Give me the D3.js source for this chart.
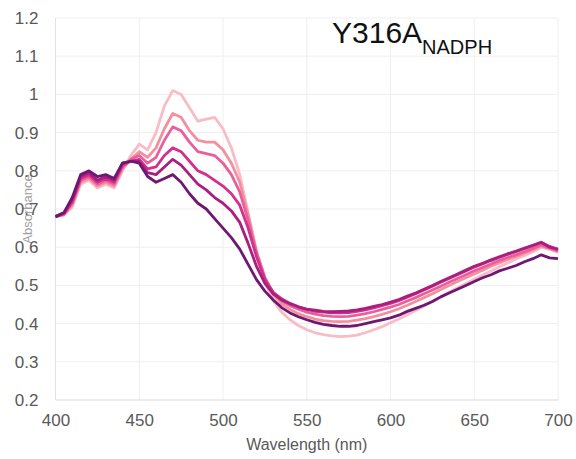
<!DOCTYPE html>
<html>
<head>
<meta charset="utf-8">
<script src="https://cdn.jsdelivr.net/npm/d3@7"></script>
<style>
  body { margin: 0; background: #fff; }
  svg { display: block; font-family: "Liberation Sans", Arial, sans-serif; }
</style>
</head>
<body>
<svg id="chart" width="576" height="459"></svg>
<script>
// wavelengths, 5 nm steps
const wavelengths = d3.range(400, 701, 5);

const xTicks = [400, 450, 500, 550, 600, 650, 700];
const yTicks = [0.2, 0.3, 0.4, 0.5, 0.6, 0.7, 0.8, 0.9, 1.0, 1.1, 1.2];
const yTickLabels = ["0.2", "0.3", "0.4", "0.5", "0.6", "0.7", "0.8", "0.9", "1", "1.1", "1.2"];

// absorbance traces, lightest (first) to darkest (last)
const trace1 = [0.680,0.684,0.705,0.765,0.775,0.755,0.765,0.755,0.800,0.840,0.870,0.855,0.900,0.970,1.010,1.000,0.965,0.930,0.935,0.940,0.910,0.860,0.790,0.690,0.585,0.510,0.460,0.430,0.410,0.395,0.384,0.376,0.371,0.368,0.366,0.367,0.370,0.376,0.384,0.392,0.402,0.412,0.423,0.434,0.446,0.458,0.470,0.482,0.494,0.505,0.516,0.527,0.538,0.549,0.559,0.569,0.578,0.588,0.600,0.594,0.587];
const trace2 = [0.680,0.685,0.710,0.770,0.780,0.760,0.770,0.760,0.805,0.830,0.850,0.835,0.860,0.910,0.950,0.940,0.905,0.880,0.875,0.875,0.855,0.820,0.770,0.685,0.590,0.520,0.475,0.452,0.437,0.426,0.418,0.412,0.408,0.406,0.405,0.406,0.409,0.413,0.418,0.424,0.431,0.439,0.448,0.458,0.468,0.478,0.489,0.500,0.510,0.520,0.530,0.540,0.550,0.559,0.568,0.576,0.584,0.593,0.603,0.596,0.588];
const trace3 = [0.680,0.686,0.715,0.775,0.785,0.765,0.775,0.765,0.810,0.830,0.840,0.820,0.835,0.880,0.915,0.905,0.875,0.850,0.845,0.840,0.820,0.790,0.745,0.670,0.585,0.520,0.480,0.460,0.447,0.438,0.430,0.425,0.421,0.419,0.418,0.419,0.422,0.426,0.431,0.437,0.443,0.450,0.459,0.468,0.478,0.488,0.498,0.508,0.518,0.528,0.538,0.547,0.556,0.565,0.573,0.580,0.588,0.597,0.606,0.598,0.590];
const trace4 = [0.680,0.688,0.720,0.780,0.790,0.770,0.780,0.770,0.815,0.825,0.830,0.805,0.810,0.840,0.860,0.850,0.825,0.800,0.790,0.775,0.760,0.740,0.710,0.650,0.575,0.515,0.482,0.465,0.453,0.444,0.437,0.432,0.430,0.428,0.428,0.429,0.432,0.436,0.441,0.447,0.453,0.460,0.469,0.478,0.488,0.498,0.508,0.518,0.528,0.538,0.548,0.556,0.565,0.573,0.581,0.588,0.596,0.604,0.612,0.602,0.594];
const trace5 = [0.680,0.690,0.725,0.785,0.795,0.775,0.785,0.775,0.820,0.825,0.825,0.795,0.790,0.810,0.830,0.815,0.790,0.765,0.750,0.730,0.715,0.695,0.665,0.610,0.550,0.505,0.478,0.462,0.452,0.444,0.438,0.435,0.432,0.431,0.432,0.433,0.436,0.440,0.445,0.450,0.456,0.463,0.472,0.480,0.490,0.500,0.510,0.520,0.530,0.540,0.550,0.558,0.567,0.575,0.583,0.590,0.598,0.605,0.613,0.600,0.595];
const trace6 = [0.680,0.690,0.730,0.790,0.800,0.785,0.790,0.780,0.820,0.825,0.820,0.785,0.770,0.780,0.790,0.770,0.740,0.715,0.700,0.675,0.650,0.625,0.595,0.555,0.515,0.485,0.462,0.442,0.428,0.418,0.410,0.403,0.398,0.395,0.393,0.393,0.395,0.400,0.405,0.410,0.415,0.422,0.432,0.440,0.448,0.458,0.470,0.480,0.490,0.500,0.510,0.520,0.528,0.538,0.545,0.552,0.562,0.570,0.580,0.572,0.570];

const traces = [trace1, trace2, trace3, trace4, trace5, trace6];
const colors = ["#f9bcc6", "#f3909f", "#ea5f9a", "#d2308a", "#a81f80", "#6e1872"];

let svg = d3.select("#chart");

let x = d3.scaleLinear().domain([400, 700]).range([55.5, 558]);
let y = d3.scaleLinear().domain([0.2, 1.2]).range([400, 18]);

// gridlines
svg.append("g")
    .selectAll("line.h")
    .data(yTicks.slice(1))
    .enter()
    .append("line")
    .attr("x1", x(400)).attr("x2", x(700))
    .attr("y1", d => y(d)).attr("y2", d => y(d))
    .attr("stroke", "#efefef")
    .attr("stroke-width", 1);

svg.append("g")
    .selectAll("line.v")
    .data(xTicks.slice(1))
    .enter()
    .append("line")
    .attr("x1", d => x(d)).attr("x2", d => x(d))
    .attr("y1", y(0.2)).attr("y2", y(1.2))
    .attr("stroke", "#efefef")
    .attr("stroke-width", 1);

// axis lines
svg.append("line")
    .attr("x1", x(400)).attr("x2", x(400))
    .attr("y1", y(0.2)).attr("y2", y(1.2))
    .attr("stroke", "#e2e2e2");
svg.append("line")
    .attr("x1", x(400)).attr("x2", x(700))
    .attr("y1", y(0.2)).attr("y2", y(0.2))
    .attr("stroke", "#d9d9d9");

// y axis title, faint, sitting behind the tick labels
svg.append("text")
    .attr("transform", "translate(32," + y(0.7) + ") rotate(-90)")
    .attr("text-anchor", "middle")
    .attr("font-size", 13)
    .attr("fill", "#a0a0a0")
    .text("Absorbance");

// tick labels
let yAxis = d3.axisLeft(y)
    .tickValues(yTicks)
    .tickFormat((d, i) => yTickLabels[i])
    .tickSize(0)
    .tickPadding(17);
let gy = svg.append("g").attr("transform", "translate(" + x(400) + ",0)").call(yAxis);
gy.select(".domain").remove();
gy.selectAll("text")
    .attr("font-size", 17)
    .attr("font-family", "Liberation Sans, Arial, sans-serif")
    .attr("fill", "#595959");

let xAxis = d3.axisBottom(x)
    .tickValues(xTicks)
    .tickFormat(d3.format("d"))
    .tickSize(0)
    .tickPadding(14);
let gx = svg.append("g").attr("transform", "translate(0," + y(0.2) + ")").call(xAxis);
gx.select(".domain").remove();
gx.selectAll("text")
    .attr("font-size", 17)
    .attr("font-family", "Liberation Sans, Arial, sans-serif")
    .attr("fill", "#595959");

svg.append("text")
    .attr("x", (x(400) + x(700)) / 2)
    .attr("y", 450)
    .attr("text-anchor", "middle")
    .attr("font-size", 16)
    .attr("fill", "#595959")
    .text("Wavelength (nm)");

// traces
let line = d3.line()
    .x((d, i) => x(wavelengths[i]))
    .y(d => y(d))
    .curve(d3.curveLinear);

svg.append("g")
    .selectAll("path")
    .data(traces)
    .enter()
    .append("path")
    .attr("d", line)
    .attr("fill", "none")
    .attr("stroke", (d, i) => colors[i])
    .attr("stroke-width", 2.8)
    .attr("stroke-linejoin", "round");

// panel title
let title = svg.append("text")
    .attr("x", 332)
    .attr("y", 43)
    .attr("font-size", 30)
    .attr("fill", "#111");
title.append("tspan").text("Y316A");
title.append("tspan")
    .attr("font-size", 20)
    .attr("dy", 11)
    .text("NADPH");
</script>
</body>
</html>
